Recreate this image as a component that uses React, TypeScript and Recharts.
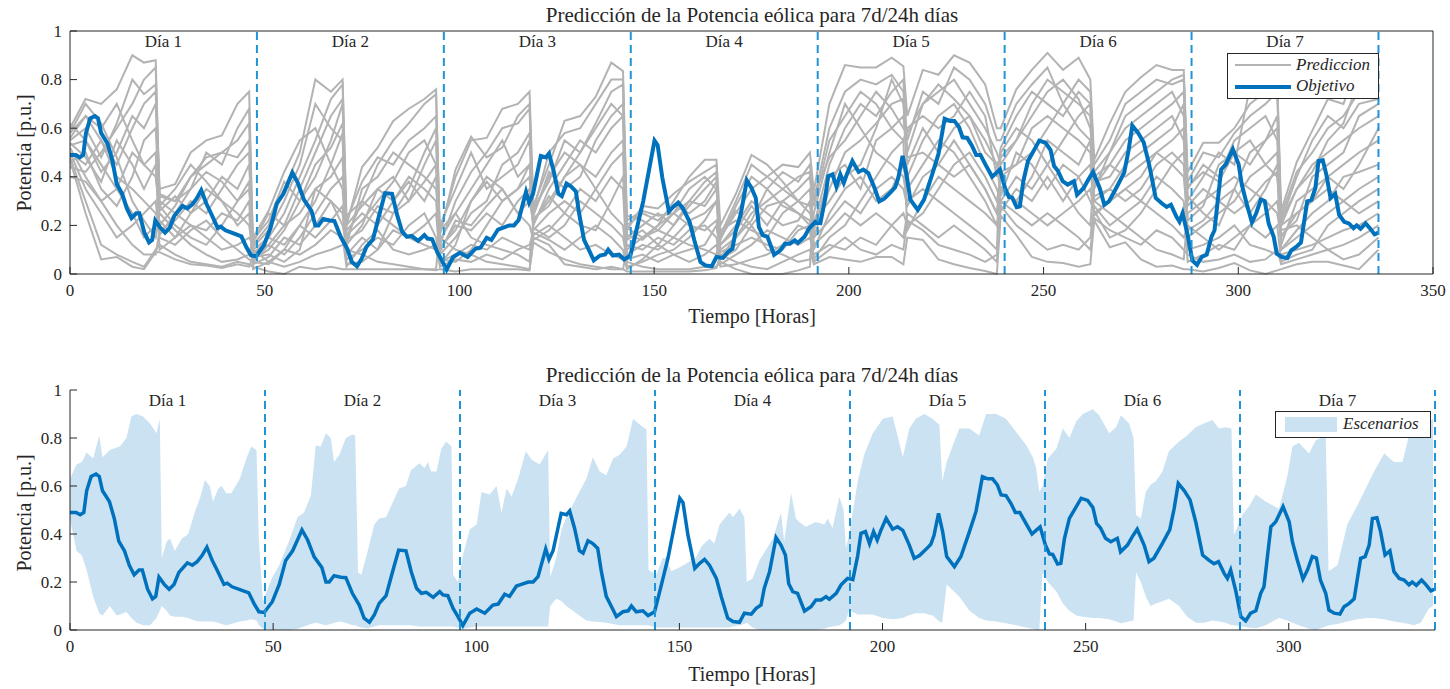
import React from "react";
import { ComposedChart, Line, Area, XAxis, YAxis, ReferenceLine } from "recharts";

// Objetivo [hora, potencia p.u.]
const OBJETIVO: [number, number][] = [
  [0, 0.49], [1.5, 0.49], [2.5, 0.48], [3.4, 0.49], [4.1, 0.58], [5.2, 0.64], [6.4, 0.65], [7.2, 0.64], [8, 0.58],
  [9.7, 0.535], [10.9, 0.465], [12, 0.37], [13.4, 0.33], [14.6, 0.27], [15.8, 0.23], [17, 0.25], [17.8, 0.25],
  [19.1, 0.17], [20.3, 0.13], [21.1, 0.14], [21.9, 0.22], [23.2, 0.19], [24.4, 0.17], [25.6, 0.19], [26.8, 0.24],
  [28.9, 0.28], [30.1, 0.27], [31.3, 0.285], [32.5, 0.31], [33.7, 0.345], [35, 0.29], [36.2, 0.25], [37.9, 0.19],
  [38.7, 0.195], [39.9, 0.18], [42, 0.167], [44, 0.155], [45.3, 0.11], [46.5, 0.076], [47.8, 0.073], [49.8, 0.118],
  [51.5, 0.19], [53.1, 0.29], [54.8, 0.33], [56, 0.375], [57.1, 0.417], [58.5, 0.375], [60.1, 0.305], [62, 0.26],
  [63, 0.2], [63.8, 0.2], [65, 0.226], [66.7, 0.22], [67.9, 0.218], [69.5, 0.153], [71.2, 0.104], [72.4, 0.049],
  [73.7, 0.032], [74.9, 0.063], [76.1, 0.111], [77.8, 0.143], [79.4, 0.243], [80.9, 0.333], [82.7, 0.33], [84, 0.243],
  [85.3, 0.174], [86.5, 0.153], [87.7, 0.157], [89.4, 0.136], [91, 0.16], [91.8, 0.146], [93, 0.143], [94.3, 0.09],
  [95.5, 0.056], [96.7, 0.018], [98.4, 0.07], [100.1, 0.0875], [102.1, 0.07], [104.1, 0.104], [105.4, 0.108],
  [107, 0.149], [108.2, 0.14], [109.9, 0.183], [111.1, 0.19], [112.8, 0.2], [114, 0.2], [115.2, 0.222], [117.1, 0.3375],
  [117.9, 0.294], [118.9, 0.33], [120.9, 0.486], [122.2, 0.48], [123, 0.496], [124.2, 0.424], [125.4, 0.33],
  [126.3, 0.32], [127.5, 0.372], [128.7, 0.36], [129.9, 0.34], [130.8, 0.243], [132, 0.14], [133.3, 0.097],
  [134.5, 0.056], [136.1, 0.076], [137.4, 0.08], [138.2, 0.1], [139.4, 0.076], [141, 0.08], [142.3, 0.06],
  [143.9, 0.076], [145.6, 0.19], [147.2, 0.3], [148.8, 0.4375], [150.1, 0.549], [150.9, 0.53], [152.1, 0.396],
  [153.8, 0.257], [155, 0.278], [156.2, 0.294], [157.4, 0.27], [159.1, 0.215], [160.3, 0.14], [161.9, 0.049],
  [163.2, 0.035], [164.8, 0.032], [166, 0.07], [167.7, 0.066], [168.9, 0.09], [170.1, 0.104], [170.9, 0.174],
  [172.2, 0.243], [173.8, 0.385], [175, 0.354], [176.1, 0.3125], [176.9, 0.194], [177.9, 0.16], [179.1, 0.153],
  [180.8, 0.079], [182.4, 0.097], [183.6, 0.125], [184.9, 0.125], [186.1, 0.139], [186.9, 0.128], [188.6, 0.153],
  [189.8, 0.188], [191.4, 0.215], [192.7, 0.21], [193.9, 0.31], [194.7, 0.403], [195.8, 0.41], [196.8, 0.36],
  [197.8, 0.41], [198.7, 0.375], [199.6, 0.415], [200.9, 0.465], [202.5, 0.42], [203.7, 0.43], [205, 0.415],
  [206.6, 0.354], [207.8, 0.299], [209.1, 0.31], [210.7, 0.336], [211.9, 0.357], [212.7, 0.396], [213.8, 0.486],
  [214.8, 0.41], [215.8, 0.306], [217.7, 0.264], [219.3, 0.306], [221.4, 0.41], [223, 0.493], [224.6, 0.639],
  [225.9, 0.63], [227.1, 0.63], [228.3, 0.604], [229.2, 0.5625], [230.4, 0.56], [231.6, 0.528], [232.7, 0.49],
  [233.8, 0.49], [235.3, 0.444], [236.8, 0.4], [237.8, 0.415], [238.8, 0.43], [240.1, 0.354], [241.1, 0.317],
  [241.9, 0.315], [243.1, 0.275], [243.9, 0.278], [244.8, 0.382], [246, 0.465], [247.7, 0.514], [248.9, 0.549],
  [250.5, 0.54], [251.8, 0.51], [252.7, 0.444], [253.7, 0.424], [254.9, 0.382], [256.2, 0.368], [257.8, 0.382],
  [258.6, 0.326], [260.3, 0.354], [261.5, 0.389], [262.7, 0.42], [264.4, 0.354], [265.6, 0.285], [266.8, 0.299],
  [268.9, 0.361], [270.7, 0.417], [271.8, 0.507], [272.8, 0.611], [274.3, 0.58], [275.7, 0.542], [277.1, 0.451],
  [278.8, 0.3125], [280.4, 0.29], [281.6, 0.276], [282.7, 0.285], [284.1, 0.236], [284.9, 0.215], [285.7, 0.25],
  [287, 0.16], [288.2, 0.056], [289.4, 0.038], [290.6, 0.07], [291.9, 0.08], [293.1, 0.153], [293.9, 0.18],
  [295.6, 0.43], [296.8, 0.451], [298.6, 0.514], [300.1, 0.451], [300.9, 0.368], [302.1, 0.292], [303.5, 0.2125],
  [304.6, 0.25], [305.8, 0.306], [306.8, 0.3], [307.8, 0.208], [309.1, 0.153], [309.9, 0.083], [311.2, 0.07],
  [312.6, 0.066], [313.6, 0.097], [314.8, 0.11], [316.1, 0.13], [317.7, 0.299], [318.8, 0.306], [319.8, 0.354],
  [320.6, 0.465], [321.7, 0.468], [322.6, 0.41], [323.7, 0.3125], [324.9, 0.33], [325.9, 0.243], [327.2, 0.215],
  [328.4, 0.208], [329.6, 0.188], [330.4, 0.2], [331.4, 0.186], [332.7, 0.208], [333.7, 0.19], [335, 0.163], [336, 0.17],
];

// Envolvente de escenarios [hora, min, max]
const ENVOLVENTE: [number, number, number][] = [
  [0, 0.46, 0.63], [1.6, 0.33, 0.69], [2.9, 0.31, 0.7], [4.1, 0.25, 0.74], [5.7, 0.14, 0.715], [7.2, 0.07, 0.81],
  [8, 0.06, 0.72], [9.8, 0.1, 0.75], [11.5, 0.06, 0.76], [12.3, 0.065, 0.765], [13.9, 0.075, 0.8], [15.1, 0.05, 0.89],
  [16.4, 0.03, 0.9], [18, 0.02, 0.89], [19.7, 0.02, 0.86], [21.3, 0.05, 0.82], [22.1, 0.08, 0.88], [22.6, 0.1, 0.3],
  [23.8, 0.08, 0.37], [24.6, 0.06, 0.38], [25.8, 0.055, 0.33], [27.5, 0.055, 0.38], [29.1, 0.05, 0.4], [30.7, 0.04, 0.49],
  [32, 0.035, 0.55], [33.2, 0.035, 0.625], [34.4, 0.035, 0.6], [35.2, 0.035, 0.535], [36.5, 0.03, 0.59], [37.3, 0.025, 0.6],
  [38.5, 0.02, 0.57], [39.7, 0.025, 0.57], [41.8, 0.035, 0.63], [43.4, 0.04, 0.715], [44.6, 0.045, 0.765], [45.9, 0.04, 0.75],
  [46.5, 0.02, 0.37], [47.5, 0.005, 0.12], [49.8, 0, 0.22], [51.5, 0, 0.27], [53.9, 0, 0.37], [56, 0.005, 0.47],
  [57.6, 0.015, 0.49], [59.3, 0.025, 0.56], [60.5, 0.03, 0.77], [61.7, 0.025, 0.765], [63, 0.02, 0.82], [64.2, 0.025, 0.8],
  [65, 0.03, 0.7], [66.3, 0.035, 0.73], [67.9, 0.03, 0.8], [69.5, 0.02, 0.815], [70.2, 0.02, 0.81], [70.9, 0.015, 0.24],
  [71.7, 0.01, 0.23], [73.3, 0.007, 0.33], [74.9, 0.015, 0.44], [76.1, 0.02, 0.465], [77.8, 0.02, 0.47], [79.4, 0.02, 0.53],
  [81, 0.02, 0.59], [82.7, 0.02, 0.6], [83.9, 0.02, 0.665], [86, 0.015, 0.695], [87.3, 0.015, 0.675], [88.1, 0.015, 0.7],
  [88.9, 0.015, 0.66], [90.2, 0.015, 0.66], [91.4, 0.015, 0.755], [92.6, 0.015, 0.785], [93.9, 0.015, 0.765],
  [94.3, 0.015, 0.23], [95.5, 0.01, 0.2], [96.7, 0.005, 0.31], [98.4, 0.01, 0.42], [100.1, 0.015, 0.44],
  [101.3, 0.015, 0.575], [103.3, 0.015, 0.565], [105, 0.015, 0.6], [106.2, 0.015, 0.49], [107.5, 0.015, 0.59],
  [108.7, 0.015, 0.555], [110.3, 0.015, 0.63], [112.2, 0.015, 0.745], [113.6, 0.015, 0.71], [115.6, 0.015, 0.69],
  [117.7, 0.015, 0.75], [118.2, 0.1, 0.22], [119.7, 0.13, 0.3], [121, 0.12, 0.42], [122.2, 0.1, 0.47], [124.6, 0.07, 0.55],
  [127.1, 0.04, 0.63], [128.7, 0.035, 0.72], [130.4, 0.033, 0.66], [132, 0.03, 0.645], [133.7, 0.025, 0.715],
  [135.3, 0.02, 0.73], [137, 0.02, 0.765], [138.6, 0.02, 0.88], [140.3, 0.02, 0.855], [141.9, 0.02, 0.835],
  [142.4, 0.02, 0.25], [144.3, 0.01, 0.23], [145.9, 0.01, 0.3], [146.8, 0.01, 0.3], [148, 0.01, 0.245], [150, 0.01, 0.26],
  [152, 0.01, 0.28], [154, 0.01, 0.3], [155.5, 0.01, 0.35], [157.4, 0.01, 0.38], [158.6, 0.01, 0.36], [159.9, 0.01, 0.44],
  [162.3, 0.01, 0.49], [163.2, 0.015, 0.47], [164.8, 0.02, 0.505], [166, 0.025, 0.47], [166.6, 0.03, 0.2],
  [168, 0.01, 0.215], [169.7, 0, 0.29], [173, 0, 0.38], [175, 0, 0.49], [175.8, 0, 0.37], [177.5, 0, 0.57],
  [178.7, 0, 0.465], [179.5, 0, 0.45], [181.1, 0, 0.43], [183.6, 0, 0.45], [185.7, 0.005, 0.44], [186.5, 0.01, 0.465],
  [187.7, 0.015, 0.425], [189.4, 0.02, 0.555], [190.4, 0.03, 0.5], [191, 0.04, 0.34], [191.8, 0.083, 0.4],
  [193.9, 0.065, 0.62], [195.5, 0.065, 0.73], [197.6, 0.065, 0.82], [200.1, 0.05, 0.88], [202.5, 0.045, 0.89],
  [203.7, 0.047, 0.81], [205, 0.05, 0.72], [206.6, 0.063, 0.84], [208.2, 0.07, 0.88], [210.3, 0.07, 0.9],
  [212.3, 0.06, 0.88], [214, 0.035, 0.855], [214.7, 0.03, 0.62], [215.8, 0.19, 0.7], [218.9, 0.14, 0.84],
  [221.4, 0.08, 0.84], [223.8, 0.05, 0.81], [225.5, 0.04, 0.9], [228, 0.035, 0.9], [230.4, 0.028, 0.88],
  [232.9, 0.02, 0.825], [235.4, 0.01, 0.77], [237, 0.005, 0.72], [237.8, 0, 0.675], [238.6, 0, 0.575],
  [239.4, 0.24, 0.6], [240.7, 0.2, 0.715], [242.8, 0.16, 0.755], [244.4, 0.11, 0.84], [246, 0.08, 0.8],
  [247.7, 0.06, 0.87], [249.3, 0.055, 0.9], [251.8, 0.05, 0.92], [253.3, 0.05, 0.895], [255.8, 0.045, 0.82],
  [257.5, 0.035, 0.845], [258.7, 0.028, 0.895], [260.7, 0.035, 0.86], [261.8, 0.04, 0.8], [262.4, 0.24, 0.48],
  [263.6, 0.2, 0.465], [264.8, 0.14, 0.575], [266, 0.1, 0.605], [267.3, 0.11, 0.62], [268.9, 0.12, 0.66],
  [270.5, 0.13, 0.745], [273, 0.1, 0.785], [275, 0.055, 0.81], [277.1, 0.03, 0.845], [279.1, 0.03, 0.86],
  [281.2, 0.04, 0.875], [282.8, 0.035, 0.84], [284.5, 0.03, 0.845], [285.9, 0.02, 0.84], [286.5, 0.02, 0.395],
  [288.6, 0.015, 0.48], [290.2, 0.01, 0.515], [291.9, 0.007, 0.565], [294.3, 0.02, 0.535], [297.6, 0.05, 0.505],
  [299.7, 0.04, 0.645], [300.9, 0.03, 0.765], [302.5, 0.02, 0.78], [305, 0.005, 0.735], [306.6, 0, 0.79],
  [309.1, 0.015, 0.81], [309.8, 0.02, 0.245], [312, 0.025, 0.27], [314.4, 0.035, 0.44], [316.9, 0.045, 0.52],
  [319.4, 0.05, 0.605], [321, 0.05, 0.66], [323.5, 0.045, 0.735], [325.9, 0.035, 0.7], [328, 0.03, 0.7],
  [329.6, 0.025, 0.81], [330.8, 0.02, 0.88], [332.5, 0.03, 0.89], [334.5, 0.09, 0.87], [335.5, 0.1, 0.88],
];

// horas de los escenarios (cada bloque de 24 h reinicia la predicción)
const HORAS_ESC = [
  0, 4, 8, 12, 16, 19, 22, 23, 27, 31, 35, 39, 43, 46, 47, 51, 55, 59, 63, 67, 70,
  71, 75, 79, 83, 87, 91, 94, 95, 99, 103, 107, 111, 115, 118, 119, 123, 127, 131, 135, 139, 142,
  143, 147, 151, 155, 159, 163, 166, 167, 171, 175, 179, 183, 187, 190, 191, 195, 199, 203, 207, 211, 214,
  215, 219, 223, 227, 231, 235, 238, 239, 243, 247, 251, 255, 259, 262, 263, 267, 271, 275, 279, 283, 286,
  287, 291, 295, 299, 303, 307, 310, 311, 315, 319, 323, 327, 331, 336,
];

const ESCENARIOS: number[][] = [
  [.60, .72, .70, .76, .90, .87, .88, .30, .25, .20, .15, .10, .12, .15, .12, .20, .35, .50, .80, .75, .80,
   .24, .30, .25, .20, .15, .12, .10, .18, .40, .55, .56, .68, .70, .75, .28, .45, .63, .65, .73, .87, .835,
   .24, .22, .18, .15, .12, .10, .08, .15, .25, .35, .40, .45, .44, .50, .34, .70, .86, .85, .85, .89, .855,
   .65, .84, .82, .90, .87, .78, .60, .60, .76, .84, .91, .84, .89, .80, .47, .62, .75, .81, .86, .84, .84,
   .42, .54, .54, .60, .70, .75, .80, .26, .46, .59, .72, .70, .88, .88],
  [.55, .60, .48, .62, .80, .74, .78, .35, .37, .50, .55, .57, .70, .75, .10, .05, .03, .05, .08, .10, .12,
   .15, .30, .45, .55, .62, .70, .74, .15, .10, .08, .05, .04, .03, .02, .13, .09, .06, .04, .03, .02, .02,
   .10, .15, .20, .30, .40, .47, .47, .20, .33, .49, .45, .38, .30, .25, .20, .45, .60, .70, .65, .75, .80,
   .50, .70, .75, .80, .70, .60, .50, .45, .55, .70, .80, .75, .70, .65, .35, .50, .65, .70, .75, .80, .82,
   .30, .40, .50, .45, .77, .79, .78, .20, .35, .45, .50, .55, .60, .65],
  [.50, .45, .55, .40, .35, .30, .25, .20, .28, .40, .48, .50, .55, .62, .08, .15, .25, .40, .55, .72, .78,
   .20, .44, .52, .63, .68, .72, .76, .12, .30, .42, .50, .60, .62, .68, .20, .35, .45, .55, .50, .60, .65,
   .18, .28, .27, .33, .38, .42, .45, .10, .15, .25, .30, .35, .40, .42, .15, .35, .50, .55, .62, .70, .72,
   .40, .55, .65, .70, .60, .45, .35, .30, .40, .35, .45, .55, .65, .70, .30, .25, .20, .15, .10, .08, .06,
   .25, .30, .35, .40, .35, .30, .25, .15, .25, .30, .35, .30, .25, .30],
  [.58, .70, .62, .48, .30, .22, .15, .25, .18, .12, .08, .05, .06, .08, .15, .26, .42, .55, .60, .45, .35,
   .10, .08, .05, .04, .03, .02, .02, .20, .35, .50, .35, .40, .45, .55, .25, .40, .50, .45, .35, .25, .20,
   .05, .03, .02, .02, .02, .03, .03, .05, .02, .00, .00, .00, .015, .03, .25, .50, .70, .60, .50, .45, .40,
   .30, .35, .30, .25, .20, .15, .10, .50, .60, .55, .45, .35, .25, .20, .40, .45, .55, .60, .65, .70, .75,
   .35, .45, .40, .55, .60, .65, .55, .22, .40, .55, .65, .60, .70, .72],
  [.48, .30, .12, .08, .05, .03, .10, .12, .08, .05, .04, .03, .05, .04, .03, .01, .00, .03, .02, .03, .02,
   .02, .02, .02, .02, .02, .02, .015, .02, .01, .02, .02, .02, .02, .015, .15, .12, .04, .03, .02, .03, .02,
   .01, .01, .01, .01, .01, .015, .025, .08, .05, .03, .02, .05, .08, .10, .04, .07, .06, .05, .07, .07, .04,
   .15, .14, .06, .04, .025, .012, .00, .24, .16, .07, .05, .045, .03, .04, .22, .11, .13, .06, .03, .035, .02,
   .02, .01, .025, .045, .015, .00, .015, .02, .04, .05, .05, .035, .02, .10],
  [.52, .40, .30, .20, .12, .08, .08, .18, .22, .30, .25, .35, .45, .50, .06, .10, .18, .30, .45, .52, .62,
   .12, .20, .35, .40, .30, .45, .55, .08, .15, .25, .30, .45, .50, .58, .22, .30, .40, .50, .62, .75, .78,
   .15, .20, .25, .20, .28, .35, .40, .12, .20, .30, .25, .20, .22, .30, .10, .25, .35, .40, .30, .35, .45,
   .35, .45, .55, .50, .40, .30, .20, .35, .30, .25, .20, .25, .30, .35, .25, .30, .35, .40, .50, .55, .60,
   .15, .20, .25, .30, .40, .45, .50, .10, .15, .20, .25, .30, .35, .40],
  [.46, .50, .35, .28, .40, .55, .60, .28, .35, .45, .38, .30, .25, .20, .09, .12, .08, .15, .25, .35, .40,
   .18, .25, .20, .30, .40, .35, .30, .10, .20, .18, .25, .20, .30, .35, .18, .25, .30, .25, .35, .45, .50,
   .08, .12, .10, .15, .22, .25, .30, .18, .22, .18, .15, .25, .30, .35, .12, .18, .25, .20, .25, .20, .15,
   .25, .20, .15, .20, .15, .10, .05, .28, .20, .15, .10, .12, .10, .15, .28, .20, .25, .30, .25, .20, .15,
   .20, .15, .10, .15, .20, .25, .30, .18, .20, .15, .10, .12, .15, .20],
  [.62, .55, .42, .50, .65, .60, .70, .32, .30, .35, .50, .45, .60, .68, .11, .18, .30, .45, .70, .60, .55,
   .22, .38, .48, .45, .55, .60, .65, .16, .43, .565, .48, .52, .65, .70, .26, .50, .58, .60, .70, .80, .80,
   .20, .25, .22, .28, .25, .30, .38, .14, .28, .40, .35, .42, .38, .45, .30, .60, .75, .80, .78, .82, .75,
   .55, .75, .70, .85, .80, .70, .55, .55, .70, .78, .85, .70, .80, .75, .45, .55, .70, .75, .80, .78, .80,
   .38, .50, .48, .58, .65, .70, .75, .24, .42, .50, .60, .65, .75, .80],
  [.50, .35, .25, .15, .20, .25, .30, .15, .12, .18, .22, .15, .10, .06, .05, .04, .10, .20, .15, .22, .28,
   .06, .10, .15, .12, .20, .25, .15, .05, .08, .12, .10, .15, .12, .10, .16, .20, .15, .10, .12, .08, .06,
   .12, .10, .15, .12, .18, .20, .15, .04, .08, .12, .18, .15, .12, .15, .08, .12, .10, .15, .12, .20, .25,
   .20, .25, .35, .45, .50, .40, .30, .40, .45, .60, .65, .60, .55, .50, .32, .35, .45, .50, .55, .60, .70,
   .10, .12, .15, .20, .12, .10, .08, .08, .10, .12, .15, .18, .20, .25],
  [.47, .25, .06, .07, .03, .02, .09, .09, .06, .04, .035, .025, .04, .03, .07, .08, .05, .10, .35, .40, .48,
   .04, .05, .10, .25, .35, .50, .60, .04, .12, .30, .40, .35, .25, .20, .14, .18, .25, .35, .30, .40, .35,
   .03, .05, .08, .10, .15, .22, .30, .06, .10, .20, .10, .08, .05, .06, .18, .40, .45, .35, .55, .60, .65,
   .45, .60, .50, .60, .65, .55, .45, .32, .50, .45, .35, .45, .40, .30, .26, .15, .18, .25, .35, .45, .50,
   .28, .35, .30, .25, .30, .38, .42, .12, .30, .35, .40, .45, .50, .55],
  [.56, .65, .60, .70, .55, .45, .40, .26, .32, .25, .30, .40, .35, .45, .14, .22, .38, .30, .40, .55, .70,
   .16, .22, .30, .38, .50, .55, .45, .14, .25, .35, .45, .55, .40, .45, .24, .42, .35, .40, .55, .65, .70,
   .14, .18, .12, .20, .30, .38, .42, .12, .18, .28, .20, .30, .35, .40, .28, .55, .65, .75, .70, .60, .55,
   .60, .65, .60, .65, .75, .65, .40, .52, .65, .75, .70, .65, .75, .70, .38, .40, .50, .55, .60, .65, .55,
   .32, .25, .20, .35, .50, .55, .65, .16, .22, .40, .45, .50, .65, .70],
  [.53, .55, .45, .35, .25, .15, .20, .22, .15, .25, .35, .30, .20, .25, .04, .07, .15, .12, .20, .30, .25,
   .08, .15, .10, .18, .15, .20, .25, .06, .05, .10, .20, .30, .35, .40, .19, .15, .20, .30, .25, .20, .15,
   .06, .08, .05, .08, .10, .12, .20, .09, .12, .15, .12, .10, .18, .20, .06, .15, .20, .30, .40, .50, .55,
   .18, .30, .40, .35, .30, .25, .20, .26, .35, .30, .40, .30, .40, .45, .24, .30, .35, .30, .40, .35, .30,
   .05, .08, .12, .10, .20, .15, .20, .05, .08, .10, .20, .25, .30, .35],
  [.44, .42, .50, .60, .70, .80, .85, .28, .20, .15, .12, .20, .30, .35, .13, .25, .20, .25, .35, .30, .20,
   .12, .35, .40, .50, .45, .40, .35, .18, .25, .15, .12, .10, .08, .05, .23, .28, .40, .45, .40, .50, .55,
   .22, .26, .24, .25, .30, .28, .35, .16, .30, .45, .40, .35, .30, .28, .22, .30, .40, .45, .60, .80, .70,
   .48, .50, .45, .40, .45, .35, .25, .42, .45, .50, .60, .70, .60, .55, .36, .45, .40, .45, .50, .45, .40,
   .22, .28, .45, .50, .55, .45, .40, .20, .25, .30, .40, .35, .45, .60],
  [.40, .38, .30, .35, .50, .45, .50, .10, .15, .20, .18, .25, .22, .30, .02, .05, .10, .08, .12, .18, .15,
   .03, .12, .18, .10, .08, .10, .12, .03, .06, .05, .08, .06, .10, .12, .17, .14, .10, .15, .20, .15, .10,
   .02, .06, .12, .08, .05, .08, .12, .03, .04, .06, .08, .12, .20, .18, .05, .10, .15, .10, .08, .12, .10,
   .22, .18, .12, .10, .08, .05, .08, .30, .25, .20, .25, .20, .15, .10, .23, .18, .15, .12, .18, .15, .10,
   .08, .05, .06, .08, .05, .06, .10, .04, .06, .08, .10, .06, .08, .15],
  [.58, .65, .55, .45, .60, .70, .75, .33, .30, .40, .45, .50, .48, .55, .10, .15, .12, .20, .30, .45, .58,
   .20, .28, .35, .30, .38, .30, .40, .11, .18, .30, .38, .30, .35, .45, .27, .38, .55, .50, .60, .70, .65,
   .19, .15, .18, .25, .35, .40, .35, .17, .26, .20, .28, .30, .25, .20, .32, .48, .55, .65, .75, .68, .60,
   .58, .70, .78, .72, .65, .50, .45, .48, .55, .65, .75, .80, .72, .60, .42, .50, .60, .65, .70, .75, .65,
   .36, .42, .38, .50, .45, .55, .60, .22, .35, .42, .55, .62, .80, .75],
  [.54, .48, .38, .55, .45, .35, .45, .16, .25, .35, .42, .38, .30, .38, .05, .12, .20, .35, .50, .65, .72,
   .14, .18, .28, .25, .30, .38, .45, .09, .22, .20, .28, .35, .25, .30, .21, .32, .25, .20, .18, .30, .40,
   .16, .14, .20, .25, .20, .18, .22, .07, .15, .22, .35, .28, .25, .22, .15, .22, .30, .25, .35, .40, .35,
   .28, .40, .45, .55, .45, .35, .25, .36, .30, .40, .55, .50, .45, .55, .30, .35, .30, .35, .45, .50, .45,
   .18, .22, .30, .35, .25, .35, .45, .10, .18, .25, .30, .40, .42, .45],
];

const DIAS = ["Día 1", "Día 2", "Día 3", "Día 4", "Día 5", "Día 6", "Día 7"];
const CENTROS_DIA = [24, 72, 120, 168, 216, 264, 312];
const LIMITES_DIA = [48, 96, 144, 192, 240, 288, 336];
const TICKS_X_SUP = [0, 50, 100, 150, 200, 250, 300, 350];
const TICKS_X_INF = [0, 50, 100, 150, 200, 250, 300];
const TICKS_Y = [0, 0.2, 0.4, 0.6, 0.8, 1];

const TITULO = "Predicción de la Potencia eólica para 7d/24h días";
const SERIF = '"Liberation Serif", "DejaVu Serif", serif';
const EJE = "#262626";
const GRIS = "#b3b3b3";
const AZUL = "#0072bd";
const DASH = "#1f95d8";
const SOMBRA = "#cbe2f2";

const objData = OBJETIVO.map(([h, v]) => ({ h, v }));
const envData = ENVOLVENTE.map(([h, lo, hi]) => ({ h, rango: [lo, hi] }));
const escData = ESCENARIOS.map((serie) => HORAS_ESC.map((h, i) => ({ h, v: serie[i] })));

function TickXInf(props: any) {
  const { x, y, payload } = props;
  return (
    <g>
      <line x1={x} x2={x} y1={y} y2={y - 7} stroke={EJE} />
      <text x={x} y={y + 16} textAnchor="middle" dominantBaseline="central" fontFamily={SERIF} fontSize={17} fill={EJE}>
        {payload.value}
      </text>
    </g>
  );
}

function TickXSup(props: any) {
  const { x, y } = props;
  return <line x1={x} x2={x} y1={y} y2={y + 7} stroke={EJE} />;
}

function TickYIzq(props: any) {
  const { x, y, payload } = props;
  return (
    <g>
      <line x1={x} x2={x + 7} y1={y} y2={y} stroke={EJE} />
      <text x={x - 8} y={y} textAnchor="end" dominantBaseline="central" fontFamily={SERIF} fontSize={17} fill={EJE}>
        {String(payload.value)}
      </text>
    </g>
  );
}

function TickYDer(props: any) {
  const { x, y } = props;
  return <line x1={x} x2={x - 7} y1={y} y2={y} stroke={EJE} />;
}

function diaLabel(value: string) {
  return { value, position: "insideTop" as const, offset: 4, fill: EJE, fontSize: 17, fontFamily: SERIF };
}

const textoBase: React.CSSProperties = {
  position: "absolute",
  fontFamily: SERIF,
  color: EJE,
  whiteSpace: "nowrap",
  transform: "translate(-50%, -50%)",
};

function Rotulos({ top }: { top: number }) {
  return (
    <>
      <div style={{ ...textoBase, left: 752, top: top + 15, fontSize: 21 }}>{TITULO}</div>
      <div style={{ ...textoBase, left: 24, top: top + 153, fontSize: 20, transform: "translate(-50%, -50%) rotate(-90deg)" }}>
        Potencia [p.u.]
      </div>
    </>
  );
}

export default function App() {
  return (
    <div style={{ position: "absolute", left: 0, top: 0, width: 1450, height: 689, background: "#fff" }}>
      {/* Panel superior */}
      <div style={{ position: "absolute", left: 0, top: 0 }}>
        <ComposedChart width={1450} height={340} margin={{ top: 30, right: 16, bottom: 36, left: 30 }}>
          <XAxis dataKey="h" type="number" domain={[0, 350]} ticks={TICKS_X_SUP} allowDataOverflow
            height={30} tickSize={0} tickMargin={0} tickLine={false} tick={<TickXInf />} axisLine={{ stroke: EJE }} />
          <XAxis xAxisId="sup" orientation="top" dataKey="h" type="number" domain={[0, 350]} ticks={TICKS_X_SUP}
            height={1} tickSize={0} tickMargin={0} tickLine={false} tick={<TickXSup />} axisLine={{ stroke: EJE }} />
          <YAxis type="number" domain={[0, 1]} ticks={TICKS_Y} width={40} tickSize={0} tickMargin={0}
            tickLine={false} tick={<TickYIzq />} axisLine={{ stroke: EJE }} />
          <YAxis yAxisId="der" orientation="right" type="number" domain={[0, 1]} ticks={TICKS_Y} width={1}
            tickSize={0} tickMargin={0} tickLine={false} tick={<TickYDer />} axisLine={{ stroke: EJE }} />
          {escData.map((d, i) => (
            <Line key={i} data={d} dataKey="v" type="linear" stroke={GRIS} strokeWidth={2} dot={false} isAnimationActive={false} />
          ))}
          <Line data={objData} dataKey="v" type="linear" stroke={AZUL} strokeWidth={4} dot={false} isAnimationActive={false} />
          {LIMITES_DIA.map((b) => (
            <ReferenceLine key={b} x={b} stroke={DASH} strokeWidth={2} strokeDasharray="8 5" />
          ))}
          {CENTROS_DIA.map((c, i) => (
            <ReferenceLine key={"d" + c} x={c} stroke="#fff" strokeOpacity={0} label={diaLabel(DIAS[i])} />
          ))}
        </ComposedChart>
      </div>
      <Rotulos top={0} />
      <div style={{ ...textoBase, left: 752, top: 316, fontSize: 20 }}>Tiempo [Horas]</div>
      <div style={{ position: "absolute", left: 1227, top: 53, width: 150, height: 44, border: `1px solid ${EJE}`, background: "#fff", fontFamily: SERIF, fontStyle: "italic", fontSize: 17, color: EJE }}>
        <div style={{ position: "absolute", left: 7, top: 10, width: 56, height: 2, background: GRIS }} />
        <div style={{ position: "absolute", left: 68, top: 1, lineHeight: "20px" }}>Prediccion</div>
        <div style={{ position: "absolute", left: 7, top: 31, width: 56, height: 4, background: AZUL }} />
        <div style={{ position: "absolute", left: 68, top: 22, lineHeight: "20px" }}>Objetivo</div>
      </div>

      {/* Panel inferior */}
      <div style={{ position: "absolute", left: 0, top: 345 }}>
        <ComposedChart width={1450} height={344} margin={{ top: 45, right: 15, bottom: 29, left: 30 }}>
          <XAxis dataKey="h" type="number" domain={[0, 336]} ticks={TICKS_X_INF} allowDataOverflow
            height={30} tickSize={0} tickMargin={0} tickLine={false} tick={<TickXInf />} axisLine={{ stroke: EJE }} />
          <YAxis type="number" domain={[0, 1]} ticks={TICKS_Y} width={40} tickSize={0} tickMargin={0}
            tickLine={false} tick={<TickYIzq />} axisLine={{ stroke: EJE }} />
          <Area data={envData} dataKey="rango" type="linear" stroke="none" fill={SOMBRA} fillOpacity={1} isAnimationActive={false} />
          <Line data={objData} dataKey="v" type="linear" stroke={AZUL} strokeWidth={3.5} dot={false} isAnimationActive={false} />
          {LIMITES_DIA.map((b) => (
            <ReferenceLine key={b} x={b} stroke={DASH} strokeWidth={2} strokeDasharray="8 5" />
          ))}
          {CENTROS_DIA.map((c, i) => (
            <ReferenceLine key={"d" + c} x={c} stroke="#fff" strokeOpacity={0} label={diaLabel(DIAS[i])} />
          ))}
        </ComposedChart>
      </div>
      <Rotulos top={360} />
      <div style={{ ...textoBase, left: 752, top: 674, fontSize: 20 }}>Tiempo [Horas]</div>
      <div style={{ position: "absolute", left: 1275, top: 411, width: 154, height: 25, border: `1px solid ${EJE}`, background: "#fff", fontFamily: SERIF, fontStyle: "italic", fontSize: 17, color: EJE }}>
        <div style={{ position: "absolute", left: 9, top: 5, width: 52, height: 15, background: SOMBRA }} />
        <div style={{ position: "absolute", left: 67, top: 2, lineHeight: "20px" }}>Escenarios</div>
      </div>
    </div>
  );
}
